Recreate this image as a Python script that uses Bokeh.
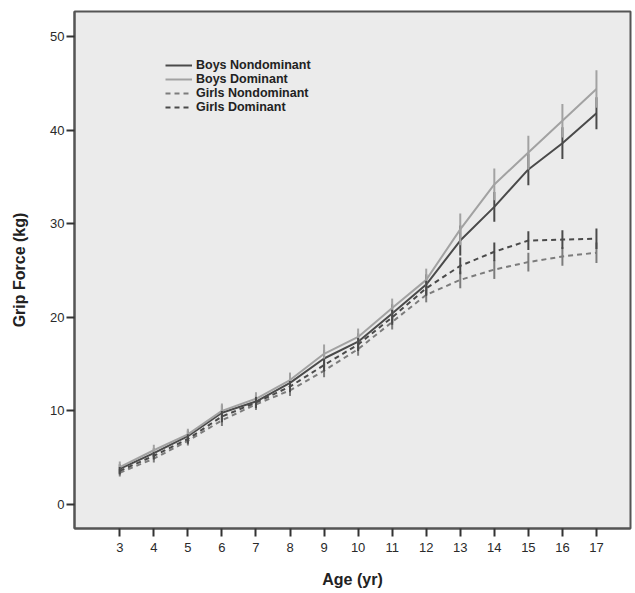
from bokeh.plotting import figure
from bokeh.models import Range1d, Legend, LegendItem, FixedTicker
from bokeh.embed import file_html
from bokeh.resources import INLINE

ages = [3, 4, 5, 6, 7, 8, 9, 10, 11, 12, 13, 14, 15, 16, 17]

boys_nondom = [3.8, 5.5, 7.3, 9.8, 11.0, 13.0, 15.6, 17.4, 20.4, 23.5, 28.2, 31.8, 35.8, 38.6, 41.8]
boys_nondom_err = [0.5, 0.5, 0.6, 0.8, 0.7, 0.8, 0.9, 0.9, 1.0, 1.1, 1.6, 1.6, 1.7, 1.7, 1.7]

boys_dom = [4.0, 5.8, 7.5, 10.0, 11.3, 13.3, 16.1, 17.9, 21.0, 24.0, 29.4, 34.2, 37.6, 41.0, 44.4]
boys_dom_err = [0.6, 0.6, 0.6, 0.8, 0.7, 0.8, 1.0, 0.9, 1.0, 1.2, 1.7, 1.7, 1.8, 1.8, 2.0]

girls_nondom = [3.4, 4.9, 6.8, 9.0, 10.7, 12.2, 14.3, 16.6, 19.5, 22.4, 24.0, 25.1, 25.9, 26.5, 26.9]
girls_nondom_err = [0.4, 0.4, 0.5, 0.6, 0.6, 0.6, 0.7, 0.7, 0.8, 0.8, 0.9, 1.0, 1.0, 1.0, 1.1]

girls_dom = [3.6, 5.2, 7.0, 9.4, 10.9, 12.6, 14.9, 17.1, 20.0, 23.1, 25.5, 27.0, 28.2, 28.3, 28.4]
girls_dom_err = [0.4, 0.4, 0.5, 0.6, 0.6, 0.6, 0.7, 0.7, 0.8, 0.8, 0.9, 1.0, 1.0, 1.0, 1.1]

y_ticks = [0, 10, 20, 30, 40, 50]

series = [
    ("Boys Nondominant", boys_nondom, boys_nondom_err, "#4a4a4a", "solid"),
    ("Boys Dominant", boys_dom, boys_dom_err, "#a2a2a2", "solid"),
    ("Girls Nondominant", girls_nondom, girls_nondom_err, "#7c7c7c", "5 4"),
    ("Girls Dominant", girls_dom, girls_dom_err, "#4a4a4a", "5 4"),
]

p = figure(width=632, height=590, output_backend="svg", toolbar_location=None,
           x_range=Range1d(1.67, 18.0), y_range=Range1d(-2.56, 52.67),
           min_border_left=74, min_border_top=11, min_border_right=2, min_border_bottom=60)

p.background_fill_color = "#ebebeb"
p.border_fill_color = "white"
p.outline_line_color = "#555555"
p.outline_line_width = 2
p.xgrid.visible = False
p.ygrid.visible = False

for ax in (p.xaxis, p.yaxis):
    ax.axis_line_color = "#555555"
    ax.axis_line_width = 2
    ax.major_tick_line_color = "#333333"
    ax.major_tick_line_width = 2
    ax.major_tick_out = 8
    ax.major_tick_in = 0
    ax.minor_tick_line_color = None
    ax.major_label_text_font = "Liberation Sans"
    ax.major_label_text_font_size = "13px"
    ax.major_label_text_color = "#2a2a2a"
    ax.axis_label_text_font = "Liberation Sans"
    ax.axis_label_text_font_size = "16px"
    ax.axis_label_text_font_style = "bold"
    ax.axis_label_text_color = "#222222"

p.xaxis.ticker = FixedTicker(ticks=ages)
p.yaxis.ticker = FixedTicker(ticks=y_ticks)
p.xaxis.major_label_standoff = 6
p.yaxis.major_label_standoff = 2
p.xaxis.axis_label = "Age (yr)"
p.yaxis.axis_label = "Grip Force (kg)"
p.xaxis.axis_label_standoff = 16
p.yaxis.axis_label_standoff = 19

items = []
for name, vals, errs, color, dash in series:
    lo = [v - e for v, e in zip(vals, errs)]
    hi = [v + e for v, e in zip(vals, errs)]
    p.segment(x0=ages, y0=lo, x1=ages, y1=hi, line_color=color, line_width=2)
    r = p.line(ages, vals, line_color=color, line_width=2, line_dash=dash)
    items.append(LegendItem(label=name, renderers=[r]))

legend = Legend(items=items, location=(91, 414))
legend.background_fill_alpha = 0
legend.border_line_color = None
legend.padding = 0
legend.margin = 0
legend.spacing = 0
legend.label_height = 14
legend.glyph_height = 14
legend.glyph_width = 27
legend.label_standoff = 4
legend.label_text_font = "Liberation Sans"
legend.label_text_font_size = "12.5px"
legend.label_text_font_style = "bold"
legend.label_text_color = "#222222"
p.add_layout(legend, "center")

open("out.html", "w").write(file_html(p, INLINE))
